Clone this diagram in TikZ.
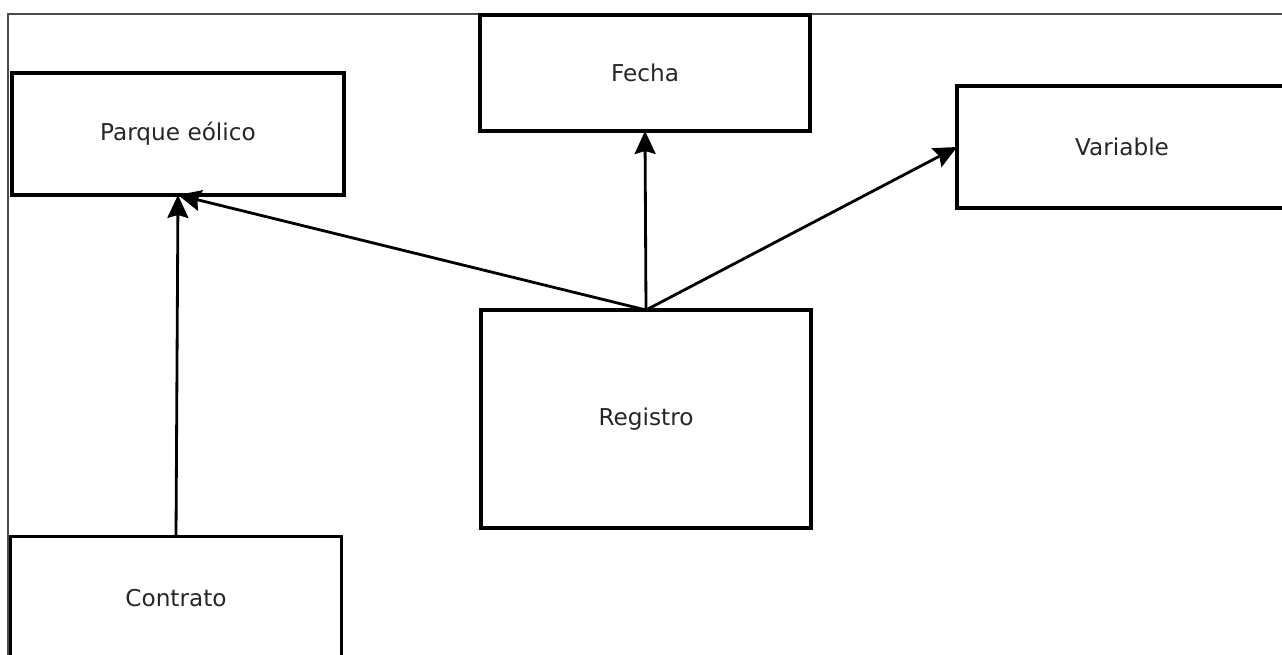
\documentclass[tikz,border=0pt]{standalone}
\usepackage{fontspec}
\setmainfont{DejaVu Sans}
\usepackage{xcolor}
\usetikzlibrary{arrows.meta}

\begin{document}
\begin{tikzpicture}[
  x=0.02cm, y=-0.02cm,
  box/.style={rectangle, draw, line width=1.8pt, inner sep=0pt, outer sep=0pt,
              minimum width=6.6cm, align=center, font=\fontsize{13.2}{15}\selectfont,
              text=black!85},
  arrow/.style={-{Stealth[length=4.6mm, width=4.2mm, inset=0.6mm]}, line width=1.6pt}
]
\useasboundingbox (0,0) rectangle (1282,655);
\clip (0,0) rectangle (1282,655);

% Frame
\draw[black!70, line width=0.9pt] (8,14) rectangle (1300,700);

% Top row
\node[box, minimum width=6.64cm, minimum height=2.44cm] at (178,134) (parque)   {Parque eólico};
\node[box, minimum height=2.32cm]                       at (645,73)  (fecha)    {Fecha};
\node[box, minimum height=2.44cm]                       at (1122,147) (variable) {Variable};

% Middle
\node[box, minimum height=4.36cm]                       at (646,419) (registro) {Registro};

% Bottom
\node[box, minimum width=6.62cm, minimum height=2.46cm] at (176,598) (contrato) {Contrato};

% Arrows
\draw[arrow] (registro.north) -- (parque.south);
\draw[arrow] (registro.north) -- (fecha.south);
\draw[arrow] (registro.north) -- (variable.west);
\draw[arrow] (contrato.north) -- (parque.south);
\end{tikzpicture}
\end{document}
